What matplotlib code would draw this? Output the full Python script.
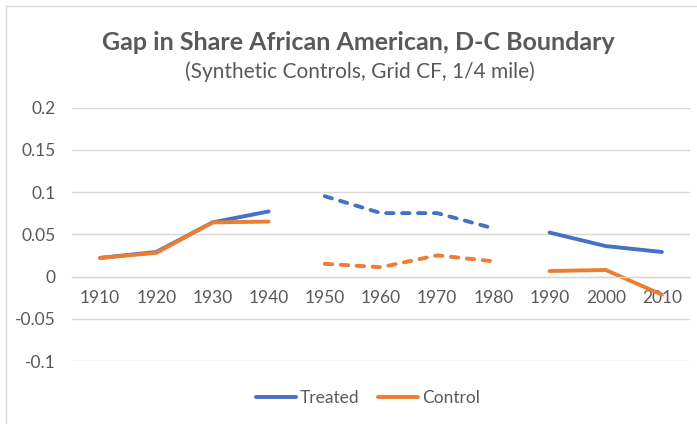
import matplotlib
matplotlib.use("Agg")
import matplotlib.pyplot as plt
from matplotlib.lines import Line2D

years = ["1910", "1920", "1930", "1940", "1950", "1960", "1970", "1980", "1990", "2000", "2010"]
treated = [0.022, 0.029, 0.064, 0.077, 0.095, 0.075, 0.075, 0.057, 0.052, 0.036, 0.029]
control = [0.022, 0.028, 0.064, 0.065, 0.015, 0.011, 0.025, 0.018, 0.0065, 0.0077, -0.0215]
# segments: (start, end, linestyle)
segments = [(0, 4, "solid"), (4, 8, "dashed"), (8, 11, "solid")]
yticks = [-0.1, -0.05, 0, 0.05, 0.1, 0.15, 0.2]
ytick_labels = ["-0.1", "-0.05", "0", "0.05", "0.1", "0.15", "0.2"]

BLUE = "#4472C4"
ORANGE = "#ED7D31"
GRAY = "#595959"
GRID = "#D9D9D9"

plt.rcParams['font.family'] = ['Lato', 'DejaVu Sans']

W, H = 697, 424
fig = plt.figure(figsize=(W / 100, H / 100), dpi=100)
ax = fig.add_axes([72 / W, (H - 361) / H, (690 - 72) / W, (361 - 107.5) / H])

LW = 2.8
x = list(range(len(years)))
dash = (0, (1.9, 2.2))
for s, e, ls in segments:
    style = "-" if ls == "solid" else dash
    for series, col in ((treated, BLUE), (control, ORANGE)):
        ax.plot(x[s:e], series[s:e], color=col, lw=LW, linestyle=style,
                solid_capstyle="round", dash_capstyle="round", solid_joinstyle="round")

ax.set_xlim(-0.5, len(years) - 0.5)
ax.set_ylim(-0.1, 0.2)
ax.set_yticks(yticks)
ax.set_yticklabels(ytick_labels)
ax.set_xticks(x)
ax.set_xticklabels(years)
ax.grid(axis="y", color=GRID, lw=1)
ax.set_axisbelow(True)
for sp in ("top", "right", "left"):
    ax.spines[sp].set_visible(False)
ax.spines["bottom"].set_position(("data", 0))
ax.spines["bottom"].set_color(GRID)
ax.spines["bottom"].set_linewidth(1)
ax.tick_params(axis="both", length=0, colors=GRAY, labelsize=12.5)
ax.tick_params(axis="y", pad=12)
ax.tick_params(axis="x", pad=10)

fig.text(358 / W, 1 - 42 / H, "Gap in Share African American, D-C Boundary",
         ha="center", va="center", fontsize=18, fontweight="bold", color=GRAY)
fig.text(360 / W, 1 - 72 / H, "(Synthetic Controls, Grid CF, 1/4 mile)",
         ha="center", va="center", fontsize=15, color=GRAY)

handles = [Line2D([0], [0], color=BLUE, lw=LW, solid_capstyle="round"),
           Line2D([0], [0], color=ORANGE, lw=LW, solid_capstyle="round")]
fig.legend(handles, ["Treated", "Control"], loc="center", bbox_to_anchor=(368 / W, 1 - 398 / H),
           ncol=2, frameon=False, fontsize=12.5, labelcolor=GRAY, handlelength=2.3,
           handletextpad=0.2, columnspacing=1.1)

# chart border (left and top visible)
fig.add_artist(Line2D([5.5 / W, 5.5 / W], [0, 1 - 5.5 / H], color=GRID, lw=1, transform=fig.transFigure))
fig.add_artist(Line2D([5.5 / W, 1], [1 - 5.5 / H, 1 - 5.5 / H], color=GRID, lw=1, transform=fig.transFigure))

fig.savefig("out.png", dpi=100, facecolor="white")
